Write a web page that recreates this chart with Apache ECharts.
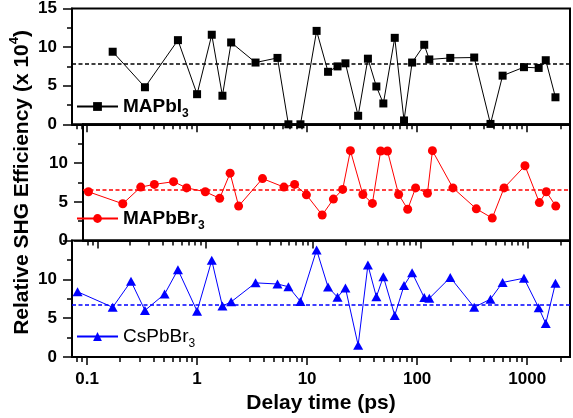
<!DOCTYPE html>
<html>
<head>
<meta charset="utf-8">
<script src="https://cdn.jsdelivr.net/npm/echarts@6/dist/echarts.min.js"></script>
<style>
html,body{margin:0;padding:0;background:#fff;}
#chart{width:573px;height:418px;}
</style>
</head>
<body>
<div id="chart"></div>
<script>
// ---- data ----
const delayTimes = [0.082, 0.171, 0.251, 0.336, 0.507, 0.67, 1.0, 1.36, 1.70, 2.04, 3.40, 5.38, 6.76, 8.7, 12.2, 15.5, 18.9, 22.3, 29.1, 35.7, 42.6, 49.3, 62.6, 76, 90, 116, 129, 200, 330, 464, 598, 935, 1272, 1475, 1807];
const mapbi3Delay = [0.171, 0.336, 0.67, 1.0, 1.36, 1.70, 2.04, 3.40, 5.38, 6.76, 8.7, 12.2, 15.5, 18.9, 22.3, 29.1, 35.7, 42.6, 49.3, 62.6, 76, 90, 116, 129, 200, 330, 464, 598, 935, 1272, 1475, 1807];
const mapbi3 = [9.4, 4.8, 10.9, 3.9, 11.6, 3.7, 10.6, 8.0, 8.6, 0, 0, 12.1, 6.8, 7.5, 7.9, 1.1, 8.5, 4.9, 2.7, 11.2, 0.5, 8.0, 10.3, 8.4, 8.6, 8.65, 0.05, 6.3, 7.4, 7.3, 8.3, 3.5];
const mapbbr3 = [6.3, 4.75, 6.9, 7.25, 7.6, 6.8, 6.3, 5.45, 8.7, 4.45, 8.0, 6.9, 7.25, 5.9, 3.3, 5.35, 6.6, 11.6, 5.95, 4.8, 11.55, 11.55, 5.95, 4.05, 6.8, 6.1, 11.6, 6.8, 4.1, 2.9, 6.8, 9.65, 4.9, 6.3, 4.45];
const cspbbr3 = [8.4, 6.4, 9.75, 6.0, 8.1, 11.25, 5.9, 12.45, 6.55, 7.1, 9.55, 9.4, 9.05, 7.15, 13.8, 9.0, 7.7, 8.9, 1.5, 11.85, 7.75, 10.35, 5.35, 9.2, 10.85, 7.65, 7.55, 10.25, 6.4, 7.45, 9.6, 10.15, 6.35, 4.3, 9.5];
const averages = [7.8, 6.6, 6.7];
const seriesNames = ['MAPbI3', 'MAPbBr3', 'CsPbBr3'];
const majorTicks = [0.1, 1, 10, 100, 1000];
const minorTicks = [0.08, 0.09, 0.2, 0.3, 0.4, 0.5, 0.6, 0.7, 0.8, 0.9, 2, 3, 4, 5, 6, 7, 8, 9, 20, 30, 40, 50, 60, 70, 80, 90, 200, 300, 400, 500, 600, 700, 800, 900, 2000];
const xRange = [0.073, 2450];
const yTicks = [0, 5, 10, 15];

// ---- chart ----
const FONT = "'Liberation Sans', Arial, sans-serif";
const colors = ['#000000', '#ff0000', '#0000ff'];
const symbols = ['rect', 'circle', 'triangle'];
const symbolSizes = [8, 9, [10, 9]];
const gridTops = [8, 124.3, 240.6];
const gridH = 116.3;

const grids = gridTops.map(t => ({
  left: 72, width: 498, top: t, height: gridH,
  show: true, borderColor: '#000', borderWidth: 2, backgroundColor: 'transparent'
}));

const xAxes = [];
for (let i = 0; i < 3; i++) {
  xAxes.push({
    type: 'log', logBase: 10, gridIndex: i, min: xRange[0], max: xRange[1],
    axisLine: { show: true, onZero: false, lineStyle: { color: '#000', width: 2 } },
    axisTick: { show: true, inside: false, length: 8, customValues: majorTicks, lineStyle: { color: '#000', width: 1.5 } },
    axisLabel: {
      show: i === 2, customValues: majorTicks, margin: 14,
      color: '#000', fontSize: 17, fontWeight: 'bold', fontFamily: FONT,
      formatter: v => String(v)
    },
    splitLine: { show: false },
    name: i === 2 ? 'Delay time (ps)' : '',
    nameLocation: 'middle', nameGap: 36,
    nameTextStyle: { color: '#000', fontSize: 21, fontWeight: 'bold', fontFamily: FONT }
  });
}
for (let i = 0; i < 3; i++) {
  xAxes.push({
    type: 'log', logBase: 10, gridIndex: i, min: xRange[0], max: xRange[1], position: 'bottom',
    axisLine: { show: false, onZero: false },
    axisTick: { show: true, inside: false, length: 5, customValues: minorTicks, lineStyle: { color: '#000', width: 1.5 } },
    axisLabel: { show: false },
    splitLine: { show: false }
  });
}

const yAxes = [0, 1, 2].map(i => ({
  type: 'value', gridIndex: i, min: 0, max: 15, interval: 5,
  axisLine: { show: true, onZero: false, lineStyle: { color: '#000', width: 2 } },
  axisTick: { show: true, inside: false, length: 9, lineStyle: { color: '#000', width: 1.5 } },
  minorTick: { show: true, splitNumber: 2, length: 5, lineStyle: { color: '#000', width: 1.5 } },
  axisLabel: {
    color: '#000', fontSize: 17, fontWeight: 'bold', fontFamily: FONT, margin: 15,
    formatter: v => (i > 0 && v === 15) ? '' : String(v)
  },
  splitLine: { show: false },
  minorSplitLine: { show: false },
  name: i === 1 ? 'Relative SHG Efficiency (x 10{sup|4})' : '',
  nameLocation: 'middle', nameGap: 47, nameRotate: 90,
  nameTextStyle: {
    color: '#000', fontSize: 21, fontWeight: 'bold', fontFamily: FONT,
    rich: { sup: { fontSize: 13, fontWeight: 'bold', fontFamily: FONT, color: '#000', verticalAlign: 'top', lineHeight: 28 } }
  }
}));

const dataSets = [
  mapbi3Delay.map((t, k) => [t, mapbi3[k]]),
  delayTimes.map((t, k) => [t, mapbbr3[k]]),
  delayTimes.map((t, k) => [t, cspbbr3[k]])
];

const series = [0, 1, 2].map(i => ({
  name: seriesNames[i], type: 'line', xAxisIndex: i, yAxisIndex: i,
  data: dataSets[i], clip: false,
  symbol: symbols[i], symbolSize: symbolSizes[i], showAllSymbol: true,
  itemStyle: { color: colors[i] },
  lineStyle: { color: colors[i], width: 1 },
  emphasis: { disabled: true },
  markLine: {
    silent: true, symbol: 'none', label: { show: false },
    lineStyle: { color: colors[i], type: [4, 2.5], width: 1.6 },
    data: [{ yAxis: averages[i] }]
  }
}));

const legendTops = [97, 209, 327];
const legends = [0, 1, 2].map(i => ({
  data: [seriesNames[i]], left: 76, top: legendTops[i], padding: 0,
  itemWidth: 41, itemHeight: 11, selectedMode: false,
  formatter: n => n.replace(/(\d)$/, '{sub|$1}'),
  textStyle: {
    color: '#000', fontSize: 19, fontWeight: i === 2 ? 'normal' : 'bold', fontFamily: FONT,
    rich: { sub: { fontSize: 12, fontWeight: i === 2 ? 'normal' : 'bold', fontFamily: FONT, color: '#000', verticalAlign: 'bottom', lineHeight: 26 } }
  }
}));

const chart = echarts.init(document.getElementById('chart'), null, { renderer: 'canvas' });
chart.setOption({
  animation: false,
  backgroundColor: '#fff',
  grid: grids,
  xAxis: xAxes,
  yAxis: yAxes,
  legend: legends,
  series: series
});
</script>
</body>
</html>
